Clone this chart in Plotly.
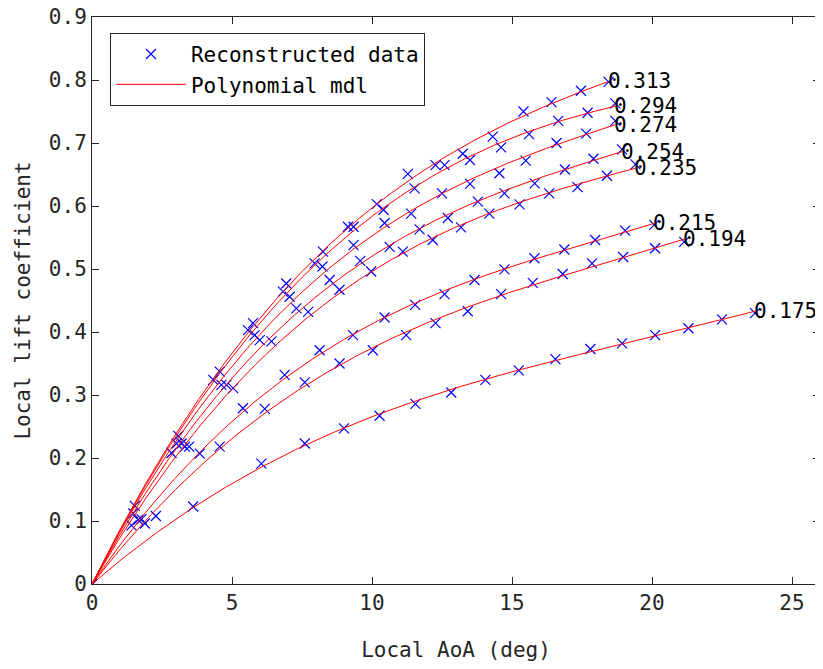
import numpy as np
import plotly.graph_objects as go

# ---- data (Local AoA in deg, local lift coefficient) ----
series_labels = ["0.313", "0.294", "0.274", "0.254", "0.235", "0.215", "0.194", "0.175"]

aoa_313 = [0, 1.53, 3.08, 4.56, 5.75, 6.94, 8.25, 9.14, 10.17, 11.28, 12.27, 13.24, 14.31, 15.41, 16.41, 17.46, 18.45]
cl_313 = [0, 0.124, 0.235, 0.337, 0.414, 0.477, 0.5275, 0.567, 0.603, 0.651, 0.665, 0.683, 0.710, 0.750, 0.765, 0.783, 0.797]

aoa_294 = [0, 1.47, 2.84, 3.02, 4.33, 5.57, 6.82, 7.95, 9.34, 10.41, 11.52, 12.59, 13.50, 14.61, 15.61, 16.65, 17.70, 18.69]
cl_294 = [0, 0.112, 0.208, 0.223, 0.324, 0.403, 0.464, 0.509, 0.567, 0.594, 0.628, 0.665, 0.673, 0.693, 0.714, 0.735, 0.748, 0.763]

aoa_274 = [0, 1.41, 3.20, 4.62, 5.81, 7.06, 8.23, 9.34, 10.45, 11.40, 12.50, 13.50, 14.55, 15.49, 16.59, 17.65, 18.69]
cl_274 = [0, 0.093, 0.223, 0.316, 0.395, 0.456, 0.504, 0.538, 0.573, 0.588, 0.620, 0.635, 0.652, 0.672, 0.700, 0.715, 0.735]

aoa_254 = [0, 1.65, 3.32, 4.80, 5.99, 7.30, 8.49, 9.58, 10.63, 11.70, 12.71, 13.78, 14.73, 15.81, 16.89, 17.91, 18.93]
cl_254 = [0, 0.102, 0.218, 0.316, 0.387, 0.4375, 0.4825, 0.513, 0.535, 0.563, 0.581, 0.607, 0.620, 0.636, 0.658, 0.675, 0.690]

aoa_235 = [0, 1.77, 3.47, 5.04, 6.41, 7.72, 8.84, 9.97, 11.10, 12.17, 13.18, 14.19, 15.27, 16.33, 17.34, 18.39, 19.41]
cl_235 = [0, 0.103, 0.218, 0.311, 0.385, 0.432, 0.467, 0.496, 0.5275, 0.546, 0.566, 0.588, 0.6025, 0.620, 0.630, 0.648, 0.666]

aoa_215 = [0, 1.89, 3.85, 5.39, 6.88, 8.13, 9.32, 10.45, 11.54, 12.59, 13.66, 14.73, 15.80, 16.87, 17.97, 19.04, 20.08]
cl_215 = [0, 0.096, 0.207, 0.279, 0.332, 0.371, 0.395, 0.423, 0.443, 0.460, 0.4825, 0.4995, 0.517, 0.531, 0.546, 0.561, 0.570]

aoa_194 = [0, 2.28, 4.56, 6.17, 7.60, 8.84, 10.03, 11.22, 12.27, 13.42, 14.61, 15.74, 16.81, 17.86, 18.97, 20.11, 21.15]
cl_194 = [0, 0.108, 0.218, 0.278, 0.320, 0.350, 0.371, 0.395, 0.414, 0.433, 0.460, 0.478, 0.492, 0.509, 0.519, 0.533, 0.543]

aoa_175 = [0, 3.61, 6.05, 7.60, 9.00, 10.27, 11.55, 12.83, 14.05, 15.24, 16.55, 17.80, 18.93, 20.11, 21.30, 22.50, 23.68]
cl_175 = [0, 0.123, 0.191, 0.223, 0.247, 0.267, 0.286, 0.304, 0.324, 0.339, 0.357, 0.373, 0.382, 0.395, 0.406, 0.420, 0.430]

x_ticks = [0, 5, 10, 15, 20, 25]
y_ticks = [0, 0.1, 0.2, 0.3, 0.4, 0.5, 0.6, 0.7, 0.8, 0.9]

all_x = [aoa_313, aoa_294, aoa_274, aoa_254, aoa_235, aoa_215, aoa_194, aoa_175]
all_y = [cl_313, cl_294, cl_274, cl_254, cl_235, cl_215, cl_194, cl_175]

FONT = "DejaVu Sans Mono"
FS = 21


def poly_model(x, y, deg=3):
    """Least-squares polynomial through the origin (the 'Polynomial mdl')."""
    x = np.asarray(x, float)
    y = np.asarray(y, float)
    A = np.vstack([x ** k for k in range(1, deg + 1)]).T
    coef, *_ = np.linalg.lstsq(A, y, rcond=None)
    xs = np.linspace(0, x.max(), 200)
    ys = sum(c * xs ** (k + 1) for k, c in enumerate(coef))
    return xs, ys


fig = go.Figure()

for i, (xd, yd) in enumerate(zip(all_x, all_y)):
    fig.add_trace(go.Scatter(
        x=xd, y=yd, mode="markers",
        marker=dict(symbol="x-thin", size=10, line=dict(color="#0000FF", width=1.2), color="#0000FF"),
        name="Reconstructed data", legendgroup="data", showlegend=(i == 0),
    ))

annotations = []
for i, (xd, yd, lab) in enumerate(zip(all_x, all_y, series_labels)):
    xs, ys = poly_model(xd, yd)
    fig.add_trace(go.Scatter(
        x=xs, y=ys, mode="lines",
        line=dict(color="#FF0000", width=1),
        name="Polynomial mdl", legendgroup="mdl", showlegend=(i == 0),
    ))
    annotations.append(dict(
        x=xs[-1], y=ys[-1], text=lab, showarrow=False,
        xanchor="left", yanchor="middle", xshift=-3,
        font=dict(family=FONT, size=FS, color="#000000"),
    ))

axis_common = dict(
    showline=True, linecolor="#262626", linewidth=1, mirror="ticks",
    ticks="inside", ticklen=7, tickwidth=1, tickcolor="#262626",
    showgrid=False, zeroline=False, automargin=False,
    ticklabeloverflow="allow",
    tickfont=dict(family=FONT, size=FS, color="#262626"),
)

# the page body adds an 8 px offset, so the figure is 8 px smaller and margins shifted
fig.update_layout(
    width=815, height=661,
    margin=dict(l=84, r=3, t=9, b=85),
    paper_bgcolor="white", plot_bgcolor="white",
    font=dict(family=FONT, size=FS, color="#262626"),
    xaxis=dict(range=[0, 26], tickvals=x_ticks, ticktext=[str(v) for v in x_ticks],
               title=dict(text="Local AoA (deg)", font=dict(family=FONT, size=FS, color="#262626"), standoff=28),
               **axis_common),
    yaxis=dict(range=[0, 0.9], tickvals=y_ticks, ticktext=["0"] + ["%.1f" % v for v in y_ticks[1:]],
               title=dict(text="Local lift coefficient", font=dict(family=FONT, size=FS, color="#262626"), standoff=12),
               **axis_common),
    legend=dict(x=0.0247, y=0.972, xanchor="left", yanchor="top",
                bgcolor="white", bordercolor="#262626", borderwidth=1,
                font=dict(family=FONT, size=FS, color="#000000"),
                itemwidth=70, tracegroupgap=0),
    annotations=annotations,
    showlegend=True,
)

fig.write_html("out.html")
